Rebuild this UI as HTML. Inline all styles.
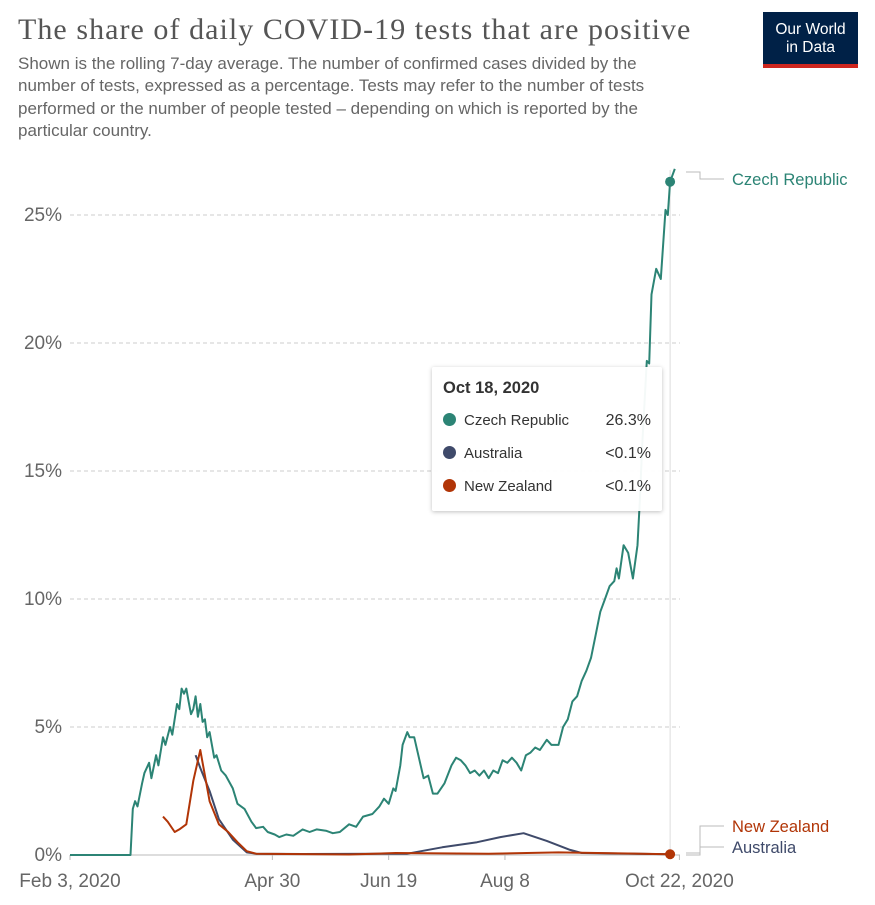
<!DOCTYPE html>
<html><head><meta charset="utf-8"><style>
body{margin:0;background:#fff;font-family:"Liberation Sans",sans-serif;}
#wrap{position:relative;width:875px;height:905px;overflow:hidden;}
.t{position:absolute;}
</style></head><body>
<div id="wrap">
<div class="t" style="left:18px;top:13px;font-family:'Liberation Serif',serif;font-size:30px;letter-spacing:1.05px;color:#555;white-space:nowrap;">The share of daily COVID-19 tests that are positive</div>
<div class="t" style="left:18px;top:53px;font-size:17px;line-height:22.3px;color:#666;white-space:nowrap;">Shown is the rolling 7-day average. The number of confirmed cases divided by the<br>number of tests, expressed as a percentage. Tests may refer to the number of tests<br>performed or the number of people tested – depending on which is reported by the<br>particular country.</div>
<div class="t" style="left:763px;top:12px;width:95px;height:56px;background:#002147;color:#fff;font-size:15.5px;line-height:18px;text-align:center;box-sizing:border-box;padding-top:9px;border-bottom:4px solid #ce261e;">Our World<br>in Data</div>
<svg id="chart" width="875" height="905" style="position:absolute;left:0;top:0"></svg>
<div class="t" style="left:432px;top:367px;width:230px;height:144px;background:rgba(255,255,255,0.95);box-shadow:0 1px 4px rgba(0,0,0,0.25);border-radius:2px;font-size:15px;color:#333;">
 <div style="position:absolute;left:11px;top:12px;font-weight:bold;font-size:16.5px;">Oct 18, 2020</div>
 <div style="position:absolute;left:11px;top:45px;width:208px;"><span style="display:inline-block;width:13px;height:13px;border-radius:50%;background:#2c8475;vertical-align:-1px;margin-right:8px"></span>Czech Republic<span style="position:absolute;right:0;font-size:16px">26.3%</span></div>
 <div style="position:absolute;left:11px;top:78px;width:208px;"><span style="display:inline-block;width:13px;height:13px;border-radius:50%;background:#3f4a6a;vertical-align:-1px;margin-right:8px"></span>Australia<span style="position:absolute;right:0;font-size:16px">&lt;0.1%</span></div>
 <div style="position:absolute;left:11px;top:111px;width:208px;"><span style="display:inline-block;width:13px;height:13px;border-radius:50%;background:#b13507;vertical-align:-1px;margin-right:8px"></span>New Zealand<span style="position:absolute;right:0;font-size:16px">&lt;0.1%</span></div>
</div>
</div>
<script>
const yTicks=[0,5,10,15,20,25];
const xTickDays=[0,87,137,187,262];
const xTickLabels=["Feb 3, 2020","Apr 30","Jun 19","Aug 8","Oct 22, 2020"];
const czDays=[0,26,27,28,29,31,32,34,35,37,38,40,41,43,44,46,47,48,49,50,51,52,53,54,55,56,57,58,59,60,62,63,65,67,70,72,75,78,80,83,85,88,90,93,96,100,103,106,110,113,116,120,123,126,130,133,135,137,139,140,142,143,145,146,148,150,152,154,156,158,161,164,166,168,170,172,174,176,178,180,182,184,186,188,190,192,194,196,198,200,202,205,207,210,212,214,216,218,220,222,224,226,228,230,232,234,235,236,238,240,242,244,245,246,248,249,250,252,254,256,257,258,260];
const czVals=[0,0,1.8,2.1,1.9,2.8,3.2,3.6,3.0,3.9,3.5,4.6,4.3,5.0,4.7,5.9,5.7,6.5,6.3,6.5,6.0,5.5,5.7,6.2,5.4,5.9,5.2,5.3,4.6,4.8,3.8,3.9,3.3,3.1,2.6,2.0,1.8,1.3,1.05,1.1,0.9,0.8,0.7,0.8,0.75,1.0,0.9,1.0,0.95,0.85,0.9,1.2,1.1,1.5,1.6,1.9,2.2,2.0,2.6,2.5,3.5,4.3,4.8,4.6,4.6,3.8,3.0,3.1,2.4,2.4,2.8,3.5,3.8,3.7,3.5,3.2,3.3,3.1,3.3,3.0,3.3,3.2,3.7,3.6,3.8,3.6,3.3,3.9,4.0,4.2,4.1,4.5,4.3,4.3,5.0,5.3,6.0,6.2,6.8,7.2,7.7,8.6,9.5,10.0,10.5,10.7,11.2,10.8,12.1,11.8,10.8,12.1,13.9,16.0,19.3,19.2,21.9,22.9,22.5,25.2,25.0,26.3,26.8];
const auDays=[54,56,60,64,70,76,80,100,145,160,175,185,195,200,205,215,220,258];
const auVals=[3.9,3.4,2.5,1.4,0.6,0.1,0.05,0.04,0.05,0.3,0.5,0.7,0.85,0.7,0.55,0.2,0.08,0.03];
const nzDays=[40,42,45,47,50,53,56,57,60,64,68,72,76,80,120,140,180,210,258];
const nzVals=[1.5,1.3,0.9,1.0,1.2,2.9,4.1,3.6,2.1,1.2,0.9,0.5,0.15,0.05,0.02,0.08,0.05,0.1,0.03];
const NS="http://www.w3.org/2000/svg";
const svg=document.getElementById('chart');
const X0=70,PX=2.326,Y0=855,PY=25.6;
const xs=d=>X0+d*PX, ys=v=>Y0-v*PY;
function mk(tag,attrs){const e=document.createElementNS(NS,tag);for(const k in attrs)e.setAttribute(k,attrs[k]);svg.appendChild(e);return e;}
yTicks.forEach(v=>{
  if(v>0){const g=mk('line',{x1:70,x2:680,y1:ys(v),y2:ys(v),stroke:'#ccc','stroke-dasharray':'4,3'});
  
  }
  const t=mk('text',{x:62,y:ys(v)+6,'text-anchor':'end','font-size':'19','fill':'#666','font-family':'Liberation Sans,sans-serif'});
  t.textContent=v+'%';
  
  
});
const ax=mk('line',{x1:70,x2:680,y1:Y0,y2:Y0,stroke:'#bbb'});


xTickDays.forEach((d,i)=>{
  const tk=mk('line',{x1:xs(d),x2:xs(d),y1:Y0,y2:Y0+5,stroke:'#bbb'});
  
  
  const t=mk('text',{x:xs(d),y:887,'text-anchor':'middle','font-size':'19','fill':'#666','font-family':'Liberation Sans,sans-serif'});
  t.textContent=xTickLabels[i];
  
  
});
const hv=mk('line',{x1:xs(258),x2:xs(258),y1:170,y2:Y0,stroke:'#ddd'});


function series(days,vals,color,name){
  const d=days.map((x,i)=>(i?'L':'M')+xs(x).toFixed(1)+','+ys(vals[i]).toFixed(1)).join('');
  const p=mk('path',{d:d,fill:'none',stroke:color,'stroke-width':'2','stroke-linejoin':'round'});
  
  
}
series(auDays,auVals,'#3f4a6a','australia-line');
series(nzDays,nzVals,'#b13507','new-zealand-line');
series(czDays,czVals,'#2c8475','czech-republic-line');
const c1=mk('circle',{cx:xs(258),cy:ys(26.3),r:5,fill:'#2c8475'});


const c2=mk('circle',{cx:xs(258),cy:ys(0.03),r:5,fill:'#b13507'});


const labels=[["Czech Republic",'#2c8475',179,172,'czech-republic-label'],["New Zealand",'#b13507',826,853,'new-zealand-label'],["Australia",'#3f4a6a',847,855,'australia-label']];
labels.forEach(l=>{
  const p=mk('path',{d:`M686,${l[3]}H700V${l[2]}H724`,fill:'none',stroke:'#bbb'});
  
  
  const t=mk('text',{x:732,y:l[2]+6,'font-size':'16.5','fill':l[1],'font-family':'Liberation Sans,sans-serif'});
  t.textContent=l[0];
  
  
});
</script>
</body></html>
